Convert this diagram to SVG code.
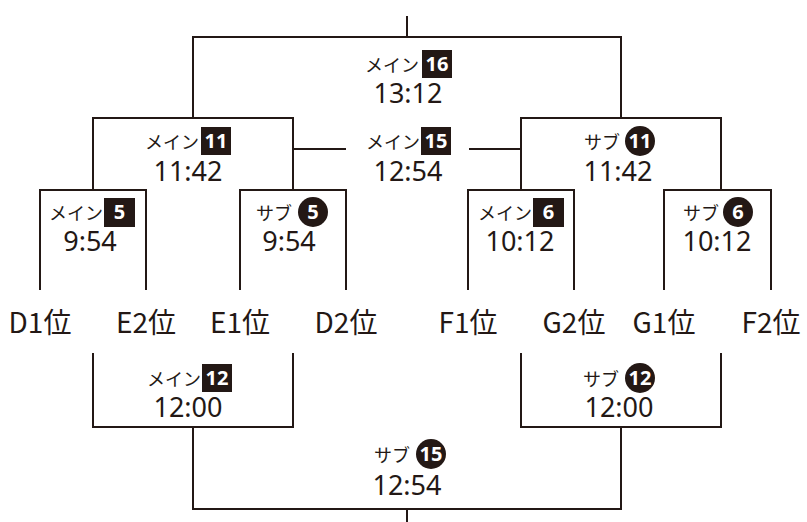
<svg xmlns="http://www.w3.org/2000/svg" width="807" height="522" viewBox="0 0 807 522">
<style>
.ln{fill:none;stroke:#231815;stroke-width:2;stroke-linecap:butt;stroke-linejoin:miter}
.lb{font-family:"Noto Sans CJK JP","Noto Sans",sans-serif;font-size:18px;fill:#231815}
.tm{font-family:"Noto Sans","Noto Sans CJK JP",sans-serif;font-size:27px;fill:#231815;text-anchor:middle}
.pl{font-family:"Noto Sans CJK JP","Noto Sans",sans-serif;font-size:28px;fill:#231815;text-anchor:middle}
.bx{fill:#231815}
.bn{font-family:"Noto Sans","Noto Sans CJK JP",sans-serif;font-size:20px;font-weight:bold;fill:#ffffff;text-anchor:middle}
</style>
<rect width="807" height="522" fill="#ffffff"/>
<g id="connectors">
<path class="ln" d="M407 16V37"/>
<path class="ln" d="M193 118V37H621V118"/>
<path class="ln" d="M93 190V118H293V190"/>
<path class="ln" d="M521 190V118H721V190"/>
<path class="ln" d="M40 290V190H146V290"/>
<path class="ln" d="M240 290V190H346V290"/>
<path class="ln" d="M468 290V190H574V290"/>
<path class="ln" d="M664 290V190H771V290"/>
<path class="ln" d="M293 149H346"/>
<path class="ln" d="M469 149H521"/>
<path class="ln" d="M93 353V427H293V353"/>
<path class="ln" d="M521 353V427H721V353"/>
<path class="ln" d="M193 427V509H621V427"/>
<path class="ln" d="M407 509V522"/>
</g>
<g id="m16">
<text class="lb" x="365" y="72">メイン</text>
<rect class="bx" x="422" y="50" width="30" height="28"/>
<text class="bn" x="437" y="71">16</text>
<text class="tm" x="408" y="103">13:12</text>
</g>
<g id="m11">
<text class="lb" x="145" y="149">メイン</text>
<rect class="bx" x="201" y="127" width="30" height="28"/>
<text class="bn" x="216" y="148">11</text>
<text class="tm" x="188" y="181">11:42</text>
</g>
<g id="m15">
<text class="lb" x="366" y="149">メイン</text>
<rect class="bx" x="421" y="127" width="30" height="28"/>
<text class="bn" x="436" y="148">15</text>
<text class="tm" x="408" y="181">12:54</text>
</g>
<g id="s11">
<text class="lb" x="584" y="149">サブ</text>
<circle class="bx" cx="640" cy="141" r="15"/>
<text class="bn" x="640" y="148">11</text>
<text class="tm" x="618" y="181">11:42</text>
</g>
<g id="m5">
<text class="lb" x="49" y="220">メイン</text>
<rect class="bx" x="104" y="198" width="31" height="29"/>
<text class="bn" x="119.500" y="219">5</text>
<text class="tm" x="90" y="251">9:54</text>
</g>
<g id="s5">
<text class="lb" x="256" y="220">サブ</text>
<circle class="bx" cx="313" cy="212" r="15"/>
<text class="bn" x="313" y="219">5</text>
<text class="tm" x="289" y="251">9:54</text>
</g>
<g id="m6">
<text class="lb" x="478" y="220">メイン</text>
<rect class="bx" x="533" y="198" width="31" height="29"/>
<text class="bn" x="548.500" y="219">6</text>
<text class="tm" x="520" y="251">10:12</text>
</g>
<g id="s6">
<text class="lb" x="683" y="220">サブ</text>
<circle class="bx" cx="738" cy="212" r="15"/>
<text class="bn" x="738" y="219">6</text>
<text class="tm" x="717" y="251">10:12</text>
</g>
<g id="places">
<text class="pl" x="40" y="333">D1位</text>
<text class="pl" x="146" y="333">E2位</text>
<text class="pl" x="240" y="333">E1位</text>
<text class="pl" x="346" y="333">D2位</text>
<text class="pl" x="468" y="333">F1位</text>
<text class="pl" x="574" y="333">G2位</text>
<text class="pl" x="664" y="333">G1位</text>
<text class="pl" x="771" y="333">F2位</text>
</g>
<g id="m12">
<text class="lb" x="147" y="386">メイン</text>
<rect class="bx" x="202" y="364" width="30" height="28"/>
<text class="bn" x="217" y="385">12</text>
<text class="tm" x="188" y="417">12:00</text>
</g>
<g id="s12">
<text class="lb" x="583" y="386">サブ</text>
<circle class="bx" cx="640" cy="378" r="15"/>
<text class="bn" x="640" y="385">12</text>
<text class="tm" x="619" y="417">12:00</text>
</g>
<g id="s15">
<text class="lb" x="374" y="462">サブ</text>
<circle class="bx" cx="431" cy="454" r="15"/>
<text class="bn" x="431" y="461">15</text>
<text class="tm" x="407" y="495">12:54</text>
</g>
</svg>
